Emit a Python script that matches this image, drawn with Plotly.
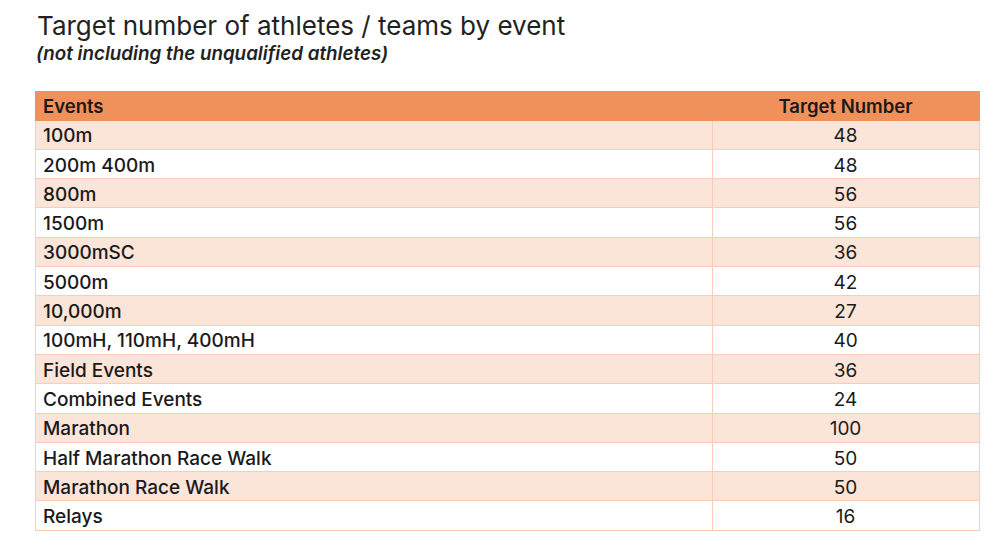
import plotly.graph_objects as go

events = ['100m', '200m 400m', '800m', '1500m', '3000mSC', '5000m', '10,000m',
          '100mH, 110mH, 400mH', 'Field Events', 'Combined Events', 'Marathon',
          'Half Marathon Race Walk', 'Marathon Race Walk', 'Relays']
target = [48, 48, 56, 56, 36, 42, 27, 40, 36, 24, 100, 50, 50, 16]
headers = ['Events', 'Target Number']

# alternating row shading
row_fill = ['#FBE4D8' if i % 2 == 0 else '#FFFFFF' for i in range(len(events))]

fig = go.Figure(go.Table(
    domain=dict(x=[35 / 993, 979 / 993], y=[0, 1 - 91 / 560]),
    columnwidth=[677, 267],
    header=dict(
        values=headers,
        fill_color='#F0915C',
        line_color='#F0915C',
        align=['left', 'center'],
        height=29,
        font=dict(family='Inter', size=18.5, color='#1A1A1A', weight=600),
    ),
    cells=dict(
        values=[events, target],
        fill_color=[row_fill, row_fill],
        line_color='#F6CDB6',
        align=['left', 'center'],
        height=29.3,
        font=dict(family=['Inter', 'Inter'], size=19, color='#1A1A1A', weight=[500, 400]),
    ),
))

fig.add_annotation(text='Target number of athletes / teams by event', x=35 / 993, y=1 - 8 / 560,
                   xref='paper', yref='paper', xanchor='left', yanchor='top', showarrow=False,
                   font=dict(family='Inter', size=26, color='#222222'))
fig.add_annotation(text='<i>(not including the unqualified athletes)</i>', x=34 / 993, y=1 - 40 / 560,
                   xref='paper', yref='paper', xanchor='left', yanchor='top', showarrow=False,
                   font=dict(family='Inter', size=18.8, color='#222222', weight=600))

fig.update_layout(width=993, height=560, margin=dict(l=0, r=0, t=0, b=0),
                  paper_bgcolor='white', plot_bgcolor='white')

fig.write_html('out.html', config={'displayModeBar': False},
               post_script="document.body.style.margin='0';")
